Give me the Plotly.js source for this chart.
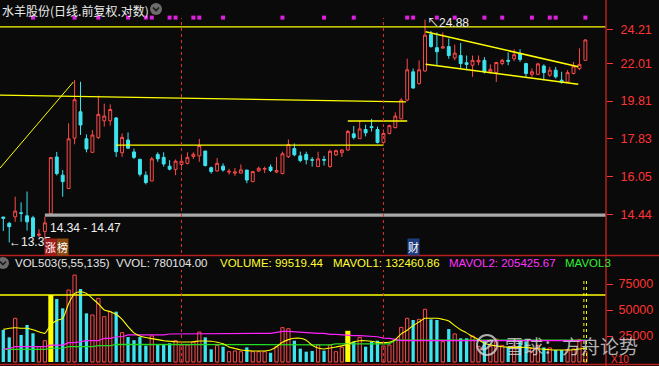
<!DOCTYPE html>
<html><head><meta charset="utf-8">
<script src="https://cdn.plot.ly/plotly-3.0.1.min.js"></script>
<style>html,body{margin:0;padding:0;background:#0a0a0a;overflow:hidden}#chart{width:659px;height:366px}</style>
</head><body><div id="chart"></div>
<script>
// ---- data ----
const OPEN = [14.33,14.08,14.34,14.50,14.38,14.30,13.62,13.76,14.47,16.95,
16.11,15.52,17.86,19.23,17.83,17.17,17.89,18.75,18.75,18.90,
17.15,17.77,17.19,16.84,16.11,15.85,17.07,16.93,16.52,16.37,
16.60,16.65,16.97,17.00,17.23,16.45,16.30,16.52,16.25,16.20,
16.20,16.34,15.82,16.30,16.38,16.48,16.25,16.18,16.96,17.35,
17.00,17.07,16.82,16.50,16.83,16.50,17.05,17.15,17.28,18.08,
17.84,18.30,18.45,18.30,17.65,18.10,18.40,18.85,19.87,21.50,
20.80,21.55,23.86,23.00,22.97,23.07,22.35,22.50,22.05,21.90,
22.10,22.20,21.50,21.45,22.00,22.20,22.30,22.60,22.00,21.35,
21.35,21.85,21.30,21.60,21.00,20.90,21.40,21.70,22.20];
const HIGH = [14.34,14.14,15.17,14.93,15.39,14.38,13.85,14.34,16.92,17.19,
16.34,18.62,21.01,20.91,18.05,18.27,20.11,19.67,19.63,18.95,
18.10,18.15,17.35,16.84,16.28,16.95,17.17,17.17,16.80,16.83,
16.96,17.17,17.17,17.83,17.25,16.50,16.90,16.65,16.40,16.43,
16.60,16.34,16.30,16.50,16.50,16.60,16.95,17.20,17.80,17.60,
17.20,17.20,16.95,17.20,17.00,17.30,17.30,17.33,18.28,18.48,
18.75,18.55,18.85,18.45,18.30,18.55,19.20,19.97,22.30,21.70,
22.20,24.88,24.10,24.00,24.00,23.60,23.20,23.30,22.50,22.50,
22.50,22.40,21.95,22.10,22.30,22.70,22.90,22.90,22.05,21.70,
22.05,21.95,21.80,21.80,21.50,21.60,22.10,22.95,23.55];
const LOW = [13.78,13.35,14.14,14.14,13.80,13.55,13.55,13.47,14.47,16.10,
15.17,15.50,17.56,18.02,17.17,17.15,17.83,18.45,18.50,16.95,
16.95,17.35,16.85,16.05,15.70,15.85,16.72,16.50,16.33,16.11,
16.34,16.60,16.85,16.72,16.50,16.18,16.27,16.27,16.14,16.08,
16.20,15.75,15.80,16.25,16.20,16.25,16.20,16.15,16.90,16.98,
16.70,16.60,16.50,16.50,16.55,16.45,17.00,16.95,17.25,17.80,
17.84,17.95,18.20,17.60,17.60,18.05,18.35,18.85,19.80,20.50,
20.75,21.50,23.00,21.90,22.95,22.30,22.20,21.70,21.60,21.20,
21.90,21.40,21.40,20.90,21.90,21.90,22.15,22.10,21.20,21.20,
21.30,21.00,21.20,21.10,20.80,20.85,21.35,21.60,22.20];
const CLOSE = [14.28,13.95,14.57,14.48,14.14,13.57,13.66,14.10,16.92,16.18,
15.82,17.83,19.89,18.53,17.33,18.02,19.09,19.00,19.35,17.20,
17.90,17.37,16.93,16.15,15.78,16.86,16.86,16.62,16.38,16.75,
16.75,16.93,17.08,17.50,16.55,16.27,16.65,16.34,16.28,16.25,
16.35,15.89,16.27,16.42,16.41,16.32,16.32,17.10,17.55,17.05,
16.78,16.82,16.80,16.86,16.80,17.22,17.25,17.28,18.20,17.90,
18.33,18.13,18.40,17.65,18.10,18.50,19.00,19.87,21.62,20.55,
21.62,23.82,23.07,22.74,23.05,22.50,22.65,22.00,21.95,22.20,
22.20,21.50,21.65,22.07,22.20,22.15,22.55,22.25,21.40,21.50,
21.98,21.45,21.60,21.20,20.88,21.45,21.85,21.95,23.50];
const VOLUME = [30800,23700,42000,26000,35600,27600,14700,20500,64400,60600,
51600,69200,83600,70200,46800,45200,61200,43600,48400,48400,
28200,24000,21000,24000,15700,25000,17300,17300,18000,20500,
16300,16300,19200,28800,23700,12200,16000,14700,9900,10600,
9900,14100,9900,9900,9900,8900,14700,33000,32000,20500,
12800,9900,10600,16600,10900,16300,9900,14100,30000,19500,
23700,14700,19500,20500,15400,16300,21200,33300,42000,40400,
41000,50700,41000,40400,19500,31700,27000,22800,22800,25000,
15000,21000,15000,22000,16000,14500,15500,20000,20000,13000,
16000,14000,13500,11500,11500,12000,12500,21800,9952];
const MAVOL1 = [31400,32500,33000,32400,32400,31000,29000,27600,36000,40000,
42000,56000,66000,67600,66000,61000,56000,50000,48400,46000,
41000,34000,28000,25000,23500,22500,21500,20500,20000,19500,
19200,19200,19500,20200,20200,20000,19000,17500,14500,13000,
11500,10900,10600,10600,10600,11500,14700,19000,21500,22800,
22800,21000,16000,13500,12500,13500,14500,15500,17000,19500,
20500,20500,20000,18800,18600,19000,21500,27000,30500,35000,
38500,42000,42000,42000,41000,39500,35000,31000,28000,24500,
21500,18000,16500,15500,14700,14300,14100,14100,14100,13500,
12800,12300,11800,11500,11500,11500,11800,12500,13246];
const MAVOL2 = [12200,13000,14700,14700,14700,14700,14700,14700,16300,16300,
16300,18600,18600,19500,20500,20500,20500,22800,22800,24300,
24300,26000,26000,26000,26000,26000,26000,26000,26900,26900,
27600,27600,27600,27600,27600,27600,27600,27600,27600,27600,
27600,27600,27600,27600,27600,27600,28500,29500,29500,29000,
28500,28500,27600,27600,27600,26600,26600,26000,26000,25300,
25300,25000,24300,24300,23000,22800,21800,20500,20500,20500,
20500,20500,20500,20500,20500,20500,20500,20500,20500,20500,
20500,20500,20500,20500,20500,20500,20500,20500,20500,20500,
20500,20500,20500,20500,20500,20500,20500,20500,20543];
const MAVOL3 = [12200,12200,12200,12200,12200,12200,12200,12200,13200,13200,
13200,14700,14700,14700,14700,14700,15700,15700,15700,17000,
17000,17000,17000,17000,17000,17000,17000,17000,17000,17000,
17000,17000,17000,17000,17000,17000,17000,17000,16500,16500,
16500,16500,16500,16500,17000,17000,17000,17000,17000,16500,
16500,16500,16500,16500,16500,16500,17500,17500,17500,17500,
17500,17500,17500,17500,17500,17500,21000,21000,21000,21000,
21000,21000,21000,21000,21000,21000,21000,21000,21000,21000,
21000,21000,21000,21000,21000,21000,21000,21000,21000,21000,
21000,21000,21000,21000,21000,21000,21000,21000,21000];
const VOL_HIGHLIGHT = [8, 58];
const SIGNAL_IDX = [5,12,16,21,24,25,28,29,32,33,37,47,54,59,68,69,73,76,81,84,89,92,93,98];
const DIVIDER_IDX = [30, 64];
const PRICE_TICKS = [24.21, 22.01, 19.81, 17.83, 16.05, 14.44];
const VOL_TICKS = [25000, 50000, 75000];
const VOL_REF = 64400;
const GAP_IDX = 8;
const EVENTS = [{i: 8, text: '涨', bg: '#a01c1c'}, {i: 8, text: '榜', bg: '#8a4a12', shift: 11.5}, {i: 69, text: '财', bg: '#1f3c80'}];
// drawn lines: [x0, x1] in bar index, [y0, y1] in price
const LINE_DIAG_X = [-0.56, 11.8], LINE_DIAG_Y = [16.43, 20.90];
const LINE_LONG_X = [-0.56, 67.8], LINE_LONG_Y = [20.15, 19.77];
const LINE_SUPPORT_X = [19, 64], LINE_SUPPORT_Y = [17.52, 17.52];
const LINE_BOX_X = [58, 68], LINE_BOX_Y = [18.74, 18.74];
const LINE_TOP_Y = [24.37, 24.37];
const CH_UP_X = [71.1, 96.8], CH_UP_Y = [24.05, 21.81];
const CH_LO_X = [71.1, 96.8], CH_LO_Y = [21.96, 20.77];
const TITLE = '水羊股份(日线.前复权.对数)';
const VOL_HEADER = ['VOL503(5,55,135)  VVOL: 780104.00', 'VOLUME: 99519.44', 'MAVOL1: 132460.86', 'MAVOL2: 205425.67', 'MAVOL3'];
const WATERMARK = '雪球：方舟论势';

// ---- style ----
const BG = '#0a0a0a', RED = '#ff4a4a', CYAN = '#3ce4f0', YEL = '#ffff00', MAG = '#ff22ff', GRN = '#22dd22', AX = '#ff3333';
const W = 659, H = 366, PW = 606;
const XR = [-0.556, 101.47];
const px = v => v / PW, py = v => 1 - v / H;
const FONT = '"Liberation Sans", "Noto Sans CJK SC", sans-serif';
const CJK = '"Noto Sans CJK SC", sans-serif';

const IDX = OPEN.map((_, i) => i);
const up = IDX.filter(i => CLOSE[i] >= OPEN[i] && !VOL_HIGHLIGHT.includes(i));
const dn = IDX.filter(i => CLOSE[i] < OPEN[i] && !VOL_HIGHLIGHT.includes(i));
const line = (x, y, color, w, extra) => Object.assign({type: 'scatter', mode: 'lines', x, y, xaxis: 'x', yaxis: 'y', line: {color, width: w}, hoverinfo: 'skip'}, extra || {});

const gapX = [GAP_IDX - 1, XR[1], XR[1], GAP_IDX - 1];
const gapY = [LOW[GAP_IDX], LOW[GAP_IDX], HIGH[GAP_IDX - 1], HIGH[GAP_IDX - 1]];

const traces = [
  {type: 'scatter', mode: 'lines', x: gapX, y: gapY, fill: 'toself', fillcolor: '#a8a8a8', line: {width: 0, color: '#a8a8a8'}, xaxis: 'x', yaxis: 'y', hoverinfo: 'skip'},
  line([XR[0], XR[1]], LINE_TOP_Y, YEL, 1.3),
  line(LINE_LONG_X, LINE_LONG_Y, YEL, 1.3),
  line(LINE_DIAG_X, LINE_DIAG_Y, YEL, 1),
  line(LINE_SUPPORT_X, LINE_SUPPORT_Y, YEL, 1.3),
  line(LINE_BOX_X, LINE_BOX_Y, YEL, 1.3),
  line(CH_UP_X, CH_UP_Y, YEL, 1.6),
  line(CH_LO_X, CH_LO_Y, YEL, 1.6),
  {type: 'candlestick', x: IDX, open: OPEN, high: HIGH, low: LOW, close: CLOSE, xaxis: 'x', yaxis: 'y',
   increasing: {line: {color: RED, width: 1}, fillcolor: BG}, decreasing: {line: {color: CYAN, width: 1}, fillcolor: CYAN},
   whiskerwidth: 0, hoverinfo: 'skip'},
  {type: 'scatter', mode: 'markers', x: SIGNAL_IDX, y: SIGNAL_IDX.map(() => 0.985), xaxis: 'x', yaxis: 'y3',
   marker: {symbol: 'square', size: 4, color: '#e020e0'}, hoverinfo: 'skip'},
  // volume
  {type: 'bar', x: up, y: up.map(i => VOLUME[i]), xaxis: 'x2', yaxis: 'y2', width: 0.55,
   marker: {color: BG, line: {color: RED, width: 1}}, hoverinfo: 'skip'},
  {type: 'bar', x: dn, y: dn.map(i => VOLUME[i]), xaxis: 'x2', yaxis: 'y2', width: 0.55,
   marker: {color: CYAN, line: {width: 0}}, hoverinfo: 'skip'},
  {type: 'bar', x: VOL_HIGHLIGHT, y: VOL_HIGHLIGHT.map(i => VOLUME[i]), xaxis: 'x2', yaxis: 'y2', width: 0.85,
   marker: {color: YEL, line: {width: 0}}, hoverinfo: 'skip'},
  {type: 'scatter', mode: 'lines', x: [XR[0], XR[1]], y: [VOL_REF, VOL_REF], xaxis: 'x2', yaxis: 'y2', line: {color: YEL, width: 1.3}, hoverinfo: 'skip'},
  {type: 'scatter', mode: 'lines', x: IDX, y: MAVOL3, xaxis: 'x2', yaxis: 'y2', line: {color: GRN, width: 1.2}, hoverinfo: 'skip'},
  {type: 'scatter', mode: 'lines', x: IDX, y: MAVOL2, xaxis: 'x2', yaxis: 'y2', line: {color: MAG, width: 1.2}, hoverinfo: 'skip'},
  {type: 'scatter', mode: 'lines', x: IDX, y: MAVOL1, xaxis: 'x2', yaxis: 'y2', line: {color: YEL, width: 1.1, shape: 'spline', smoothing: 0.6}, hoverinfo: 'skip'}
];

const shapes = [];
DIVIDER_IDX.forEach(i => {
  shapes.push({type: 'line', xref: 'x', yref: 'paper', x0: i, x1: i, y0: py(253), y1: py(18), line: {color: '#e03030', width: 1, dash: 'dot'}});
  shapes.push({type: 'line', xref: 'x2', yref: 'paper', x0: i, x1: i, y0: py(362), y1: py(270), line: {color: '#e03030', width: 1, dash: 'dot'}});
});
const last = IDX.length - 1;
[last - 0.25, last + 0.18].forEach(x => shapes.push({type: 'line', xref: 'x2', yref: 'y2', x0: x, x1: x, y0: 0, y1: 78800, line: {color: YEL, width: 1, dash: 'dot'}}));
// frame lines
shapes.push({type: 'line', xref: 'paper', yref: 'paper', x0: 1, x1: 1, y0: 0, y1: 1, line: {color: '#b81e1e', width: 1.5}});
shapes.push({type: 'line', xref: 'paper', yref: 'paper', x0: 0, x1: W / PW, y0: py(255.5), y1: py(255.5), line: {color: '#b81e1e', width: 1.5}});
shapes.push({type: 'line', xref: 'paper', yref: 'paper', x0: 0, x1: W / PW, y0: py(364.5), y1: py(364.5), line: {color: '#b81e1e', width: 1.5}});
// small chevron icons
function icon(cx, cy, r) {
  shapes.push({type: 'circle', xref: 'paper', yref: 'paper', x0: px(cx - r), x1: px(cx + r), y0: py(cy + r), y1: py(cy - r), fillcolor: '#6c6c6c', line: {width: 0}});
  shapes.push({type: 'path', xref: 'paper', yref: 'paper', path: `M ${px(cx - 3)} ${py(cy - 1.5)} L ${px(cx)} ${py(cy + 1.5)} L ${px(cx + 3)} ${py(cy - 1.5)}`, line: {color: '#1a1a1a', width: 1.6}});
}
icon(156, 9, 6);
icon(3, 263, 6);
// watermark logo
shapes.push({type: 'circle', xref: 'paper', yref: 'paper', x0: px(477), x1: px(497), y0: py(355), y1: py(335), line: {color: 'rgba(215,215,215,0.8)', width: 2}});
shapes.push({type: 'path', xref: 'paper', yref: 'paper', path: `M ${px(481)} ${py(350)} Q ${px(487)} ${py(338)} ${px(493)} ${py(341)} M ${px(481)} ${py(349)} Q ${px(487)} ${py(352)} ${px(493)} ${py(340)}`, line: {color: 'rgba(215,215,215,0.8)', width: 2}});

const hi = HIGH.indexOf(Math.max(...HIGH));
const lo = LOW.indexOf(Math.min(...LOW));
const ann = [
  {xref: 'paper', yref: 'paper', x: 0, y: py(10), xanchor: 'left', yanchor: 'middle', text: TITLE, showarrow: false, font: {family: CJK, size: 12, color: '#ececec'}},
  {xref: 'x', yref: 'y', x: hi, y: Math.log10(HIGH[hi]), xanchor: 'left', yanchor: 'middle', yshift: -3, text: '↖' + HIGH[hi].toFixed(2), showarrow: false, font: {family: FONT, size: 12, color: '#f0f0f0'}},
  {xref: 'x', yref: 'y', x: lo, y: Math.log10(LOW[lo]), xanchor: 'left', yanchor: 'middle', xshift: -2, text: '←' + LOW[lo].toFixed(2), showarrow: false, font: {family: FONT, size: 12, color: '#f0f0f0'}},
  {xref: 'x', yref: 'y', x: GAP_IDX, y: Math.log10(HIGH[GAP_IDX - 1]), xanchor: 'left', yanchor: 'top', xshift: -3, yshift: -2,
   text: HIGH[GAP_IDX - 1].toFixed(2) + ' - ' + LOW[GAP_IDX].toFixed(2), showarrow: false, font: {family: FONT, size: 12, color: '#f0f0f0'}},
  {xref: 'paper', yref: 'paper', x: px(503), y: py(345), xanchor: 'left', yanchor: 'middle', text: WATERMARK, showarrow: false, font: {family: CJK, size: 19, color: 'rgba(215,215,215,0.82)'}},
  {xref: 'paper', yref: 'paper', x: px(609), y: py(359), xanchor: 'left', yanchor: 'middle', text: 'X10', showarrow: false, font: {family: FONT, size: 10, color: AX}}
];
EVENTS.forEach(e => ann.push({xref: 'x', yref: 'paper', x: e.i, y: py(247), xshift: e.shift || 0, xanchor: 'center', yanchor: 'middle', text: e.text, showarrow: false,
  bgcolor: e.bg, borderpad: 0, font: {family: CJK, size: 11, color: '#ffffff'}}));
const hdrX = [13, 218, 331, 447, 563];
const hdrC = ['#e6e6e6', '#ffff33', '#ffff33', '#ff33ff', '#33ee33'];
VOL_HEADER.forEach((t, k) => ann.push({xref: 'paper', yref: 'paper', x: px(hdrX[k]), y: py(263), xanchor: 'left', yanchor: 'middle', text: t, showarrow: false,
  font: {family: FONT, size: 11.5, color: hdrC[k]}}));

const axX = {range: XR, visible: false, showgrid: false, zeroline: false, fixedrange: true, rangeslider: {visible: false}};
const layout = {
  width: W, height: H, margin: {l: 0, r: W - PW, t: 0, b: 0}, paper_bgcolor: BG, plot_bgcolor: BG, showlegend: false, barmode: 'overlay',
  xaxis: Object.assign({anchor: 'y'}, axX),
  xaxis2: Object.assign({anchor: 'y2'}, axX),
  yaxis: {type: 'log', domain: [py(254), py(14)], range: [1.11144, 1.40256], side: 'right', anchor: 'x',
    tickmode: 'array', tickvals: PRICE_TICKS, ticktext: PRICE_TICKS.map(v => v.toFixed(2)), ticks: 'outside', ticklen: 6, tickcolor: AX, tickwidth: 1,
    ticklabelstandoff: 5, tickfont: {family: FONT, size: 12.5, color: AX}, showgrid: false, zeroline: false, showline: false, fixedrange: true},
  yaxis2: {domain: [py(363), py(268)], range: [-962, 90385], side: 'right', anchor: 'x2',
    tickmode: 'array', tickvals: VOL_TICKS, ticktext: VOL_TICKS.map(String), ticks: 'outside', ticklen: 6, tickcolor: AX, tickwidth: 1,
    ticklabelstandoff: 3, tickfont: {family: FONT, size: 12.5, color: AX}, showgrid: false, zeroline: false, showline: false, fixedrange: true},
  yaxis3: {overlaying: 'y', range: [0, 1], visible: false, fixedrange: true},
  shapes, annotations: ann
};
Plotly.newPlot('chart', traces, layout, {staticPlot: true, displayModeBar: false});
</script></body></html>
